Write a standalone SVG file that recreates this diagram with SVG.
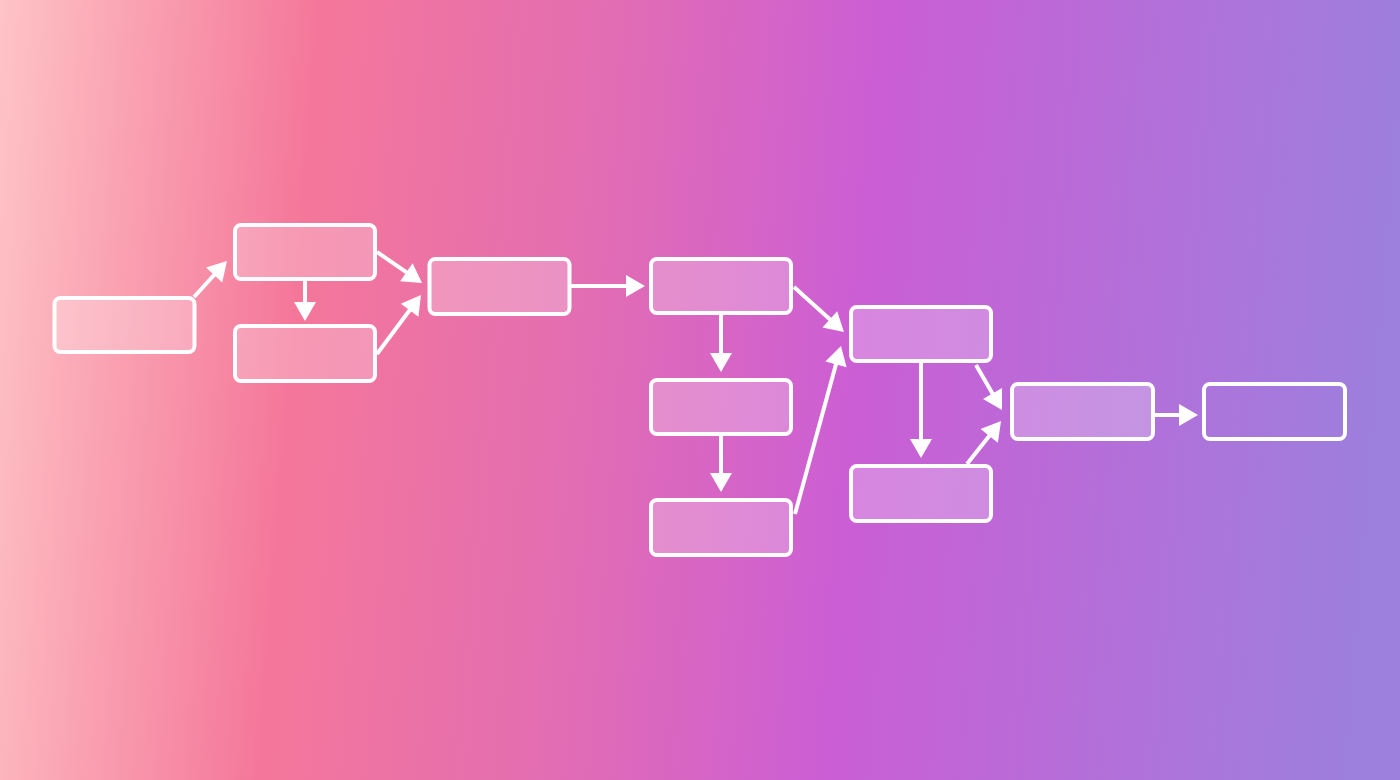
<svg xmlns="http://www.w3.org/2000/svg" width="1400" height="780" viewBox="0 0 1400 780">
<defs>
<linearGradient id="bg" gradientUnits="userSpaceOnUse" x1="0" y1="0" x2="1400" y2="110">
<stop offset="0" stop-color="#fec4c7"/>
<stop offset="0.07" stop-color="#fbabb7"/>
<stop offset="0.227" stop-color="#f4779a"/>
<stop offset="0.43" stop-color="#e36db2"/>
<stop offset="0.63" stop-color="#cb5ed5"/>
<stop offset="1" stop-color="#9d7fdd"/>
</linearGradient>
<marker id="ah" markerUnits="userSpaceOnUse" markerWidth="20" markerHeight="22" refX="13" refY="11" orient="auto" overflow="visible">
<path d="M0,0 L19,11 L0,22 Z" fill="#ffffff"/>
</marker>
<style>
.node rect{fill:#ffffff;fill-opacity:0.25;stroke:#ffffff;stroke-width:4}
.node.hollow rect{fill:none}
#connectors line{stroke:#ffffff;stroke-width:4;marker-end:url(#ah)}
</style>
</defs>
<rect x="0" y="0" width="1400" height="780" fill="url(#bg)"/>
<g id="connectors">
<line x1="194" y1="297" x2="222.9" y2="265.4"/>
<line x1="305" y1="281" x2="305" y2="315"/>
<line x1="377" y1="252" x2="417.1" y2="279.6"/>
<line x1="377" y1="354" x2="417.4" y2="299.8"/>
<line x1="571" y1="286" x2="639" y2="286"/>
<line x1="721" y1="315" x2="721" y2="366"/>
<line x1="721" y1="436" x2="721" y2="486"/>
<line x1="794" y1="287" x2="839.5" y2="328"/>
<line x1="795" y1="514" x2="839.4" y2="351.8"/>
<line x1="921" y1="363" x2="921" y2="452"/>
<line x1="976" y1="365" x2="999" y2="404.8"/>
<line x1="967" y1="464" x2="997.3" y2="425.7"/>
<line x1="1155" y1="415" x2="1192" y2="415"/>
</g>
<g id="nodeA" class="node"><rect x="54.5" y="298" width="140" height="54" rx="6"/></g>
<g id="nodeB" class="node"><rect x="235" y="225" width="140" height="54" rx="6"/></g>
<g id="nodeC" class="node"><rect x="235" y="326" width="140" height="55" rx="6"/></g>
<g id="nodeD" class="node"><rect x="429.5" y="259" width="140" height="55" rx="6"/></g>
<g id="nodeE" class="node"><rect x="651" y="259" width="140" height="54" rx="6"/></g>
<g id="nodeF" class="node"><rect x="651" y="380" width="140" height="54" rx="6"/></g>
<g id="nodeG" class="node"><rect x="651" y="500" width="140" height="55" rx="6"/></g>
<g id="nodeH" class="node"><rect x="851" y="307" width="140" height="54" rx="6"/></g>
<g id="nodeI" class="node"><rect x="851" y="466" width="140" height="55" rx="6"/></g>
<g id="nodeJ" class="node"><rect x="1012" y="384" width="141" height="55" rx="6"/></g>
<g id="nodeK" class="node hollow"><rect x="1204" y="384" width="141" height="55" rx="6"/></g>
</svg>
